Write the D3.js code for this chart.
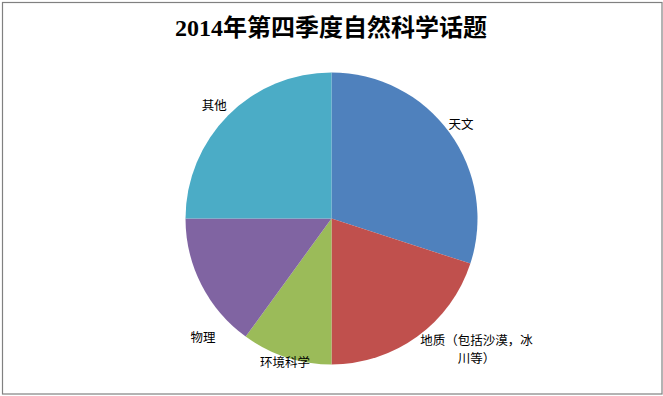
<!DOCTYPE html>
<html>
<head>
<meta charset="utf-8">
<script src="https://cdn.jsdelivr.net/npm/d3@7"></script>
<style>
  html, body { margin: 0; padding: 0; background: #fff; }
  svg { display: block; }
</style>
</head>
<body>
<svg id="chart" width="663" height="396"></svg>
<script>
// ---- data ----
const title = "2014年第四季度自然科学话题";
const categories = ["天文", "地质（包括沙漠，冰川等）", "环境科学", "物理", "其他"];
const values = [30, 20, 10, 15, 25];
const labelLines = [["天文"], ["地质（包括沙漠，冰", "川等）"], ["环境科学"], ["物理"], ["其他"]];

// ---- styling / layout ----
const colors = ["#4F81BD", "#C0504D", "#9BBB59", "#8064A2", "#4BACC6"];
const labelNudge = [[0, 0], [51, 2], [3, -8], [14, 46], [-4, 0]];
const W = 663, H = 396;
const cx = 331.5, cy = 218.5, R = 146;

const svg = d3.select("#chart");

svg.append("rect")
  .attr("x", 2.5).attr("y", 2.5)
  .attr("width", 659.5).attr("height", 391.5)
  .attr("fill", "#fff")
  .attr("stroke", "#808080")
  .attr("stroke-width", 1.2);

svg.append("text")
  .attr("x", 331)
  .attr("y", 36)
  .attr("text-anchor", "middle")
  .style("font-family", "'Liberation Serif', 'Noto Sans CJK SC', serif")
  .style("font-weight", "bold")
  .style("font-size", "24px")
  .attr("fill", "#000")
  .text(title);

const pie = d3.pie().sort(null).value(d => d)(values);
const arc = d3.arc().innerRadius(0).outerRadius(R);
const labelArc = d3.arc().innerRadius(160).outerRadius(160);
const color = d3.scaleOrdinal().domain(categories).range(colors);

const g = svg.append("g").attr("transform", `translate(${cx},${cy})`);

g.selectAll("path.slice")
  .data(pie)
  .join("path")
  .attr("class", "slice")
  .attr("d", arc)
  .attr("fill", (d, i) => color(categories[i]));

const lineH = 18;
g.selectAll("g.lbl")
  .data(pie)
  .join("g")
  .attr("class", "lbl")
  .each(function(d, i) {
    const [x, y] = labelArc.centroid(d);
    const lx = x + labelNudge[i][0], ly = y + labelNudge[i][1];
    const lines = labelLines[i];
    const grp = d3.select(this);
    lines.forEach((s, k) => {
      grp.append("text")
        .attr("text-anchor", "middle")
        .style("font-family", "'Noto Sans CJK SC', sans-serif")
        .style("font-size", "12.5px")
        .attr("fill", "#000")
        .attr("x", lx)
        .attr("y", ly + (k - (lines.length - 1) / 2) * lineH)
        .attr("dy", "0.35em")
        .text(s);
    });
  });
</script>
</body>
</html>
